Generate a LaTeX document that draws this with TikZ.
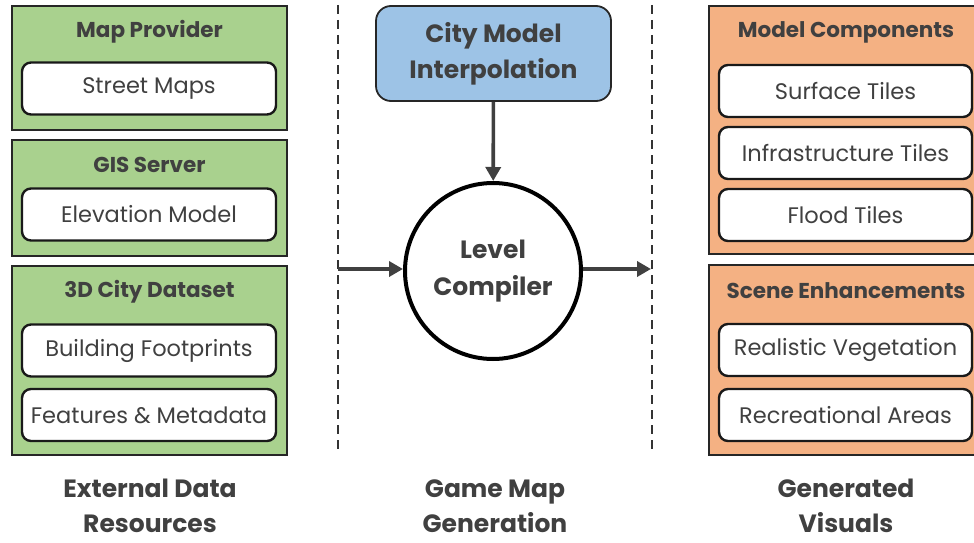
\documentclass[tikz,border=0pt]{standalone}
\usepackage{fontspec}
\setmainfont{Poppins}
\usepackage{xcolor}
\usetikzlibrary{arrows.meta,positioning}
\definecolor{grn}{HTML}{A9D18E}
\definecolor{org}{HTML}{F4B183}
\definecolor{blu}{HTML}{9DC3E6}
\definecolor{ink}{HTML}{404040}

\begin{document}
\begin{tikzpicture}[
		x=1pt, y=-1pt,
		font=\fontsize{22.5}{26}\selectfont, text=ink,
		panel/.style={draw=black!85, line width=1.8pt, minimum width=275pt},
		item/.style={draw=black!90, fill=white, line width=2.4pt, rounded corners=9pt, minimum width=254pt, minimum height=52pt},
		head/.style={font=\fontsize{21.5}{26}\selectfont\bfseries},
		foot/.style={font=\fontsize{25}{35}\selectfont\bfseries, align=center},
		divider/.style={draw=black!80, line width=2pt, dash pattern=on 9pt off 6pt},
		flow/.style={draw=ink, line width=3.6pt, -{Triangle[length=14pt,width=15pt]}}
		]
		\useasboundingbox (0,0) rectangle (974,543);
		
		% Colonne gauche
		\node[panel, fill=grn, minimum height=124pt] (prov) at (149.5,68) {};
		\node[panel, fill=grn, minimum height=116pt] (gis) at (149.5,198) {};
		\node[panel, fill=grn, minimum height=189pt] (city) at (149.5,360.5) {};
		\node[head] (provT) at (149.5,32) {Map Provider};
		\node[head] (gisT) at (149.5,165) {GIS Server};
		\node[head] (cityT) at (149.5,292) {3D City Dataset};
		\node[item] (street) at (149,88.5) {Street Maps};
		\node[item] (elev) at (149,214.5) {Elevation Model};
		\node[item] (foot) at (149,350.5) {Building Footprints};
		\node[item] (meta) at (149,415) {Features \& Metadata};
		
		% Colonne droite
		\node[panel, fill=org, minimum width=290pt, minimum height=248pt] (models) at (854,130) {};
		\node[panel, fill=org, minimum width=290pt, minimum height=190pt] (scene) at (854,360) {};
		\node[head] (modelsT) at (846,32) {Model Components};
		\node[head] (sceneT) at (846,291) {Scene Enhancements};
		\node[item, minimum width=253pt] (surf) at (845.5,91) {Surface Tiles};
		\node[item, minimum width=253pt] (infra) at (845.5,153) {Infrastructure Tiles};
		\node[item, minimum width=253pt] (flood) at (845.5,215) {Flood Tiles};
		\node[item, minimum width=253pt] (veg) at (845.5,350) {Realistic Vegetation};
		\node[item, minimum width=253pt] (rec) at (845.5,415) {Recreational Areas};
		
		% Milieu
		\node[draw=black!85, fill=blu, line width=1.8pt, rounded corners=15pt, minimum width=235pt, minimum height=95pt, align=center, font=\fontsize{25}{36}\selectfont\bfseries] (interp) at (493.5,53.5) {City Model\\Interpolation};
		\node[circle, draw=black, fill=white, line width=4pt, minimum size=176pt, inner sep=0pt, align=center, font=\fontsize{25}{37}\selectfont\bfseries] (comp) at (493,271) {Level\\Compiler};
		
		% Séparateurs
		\coordinate (dL1) at (338,5);
		\coordinate (dL2) at (338,452);
		\coordinate (dR1) at (652,5);
		\coordinate (dR2) at (652,452);
		\draw[divider] (dL1) -- (dL2);
		\draw[divider] (dR1) -- (dR2);
		
		% Les flèches
		\coordinate (inL) at (338,269);
		\coordinate (outR) at (651,269);
		\draw[flow] (interp) -- (comp);
		\draw[flow] (inL) -- (comp.west |- inL);
		\draw[flow] (comp.east |- outR) -- (outR);
		
		% Légendes
		\node[foot] (extL) at (150,506) {External Data\\Resources};
		\node[foot] (genL) at (495,506) {Game Map\\Generation};
		\node[foot] (visL) at (846,506) {Generated\\Visuals};
	\end{tikzpicture}
\end{document}
